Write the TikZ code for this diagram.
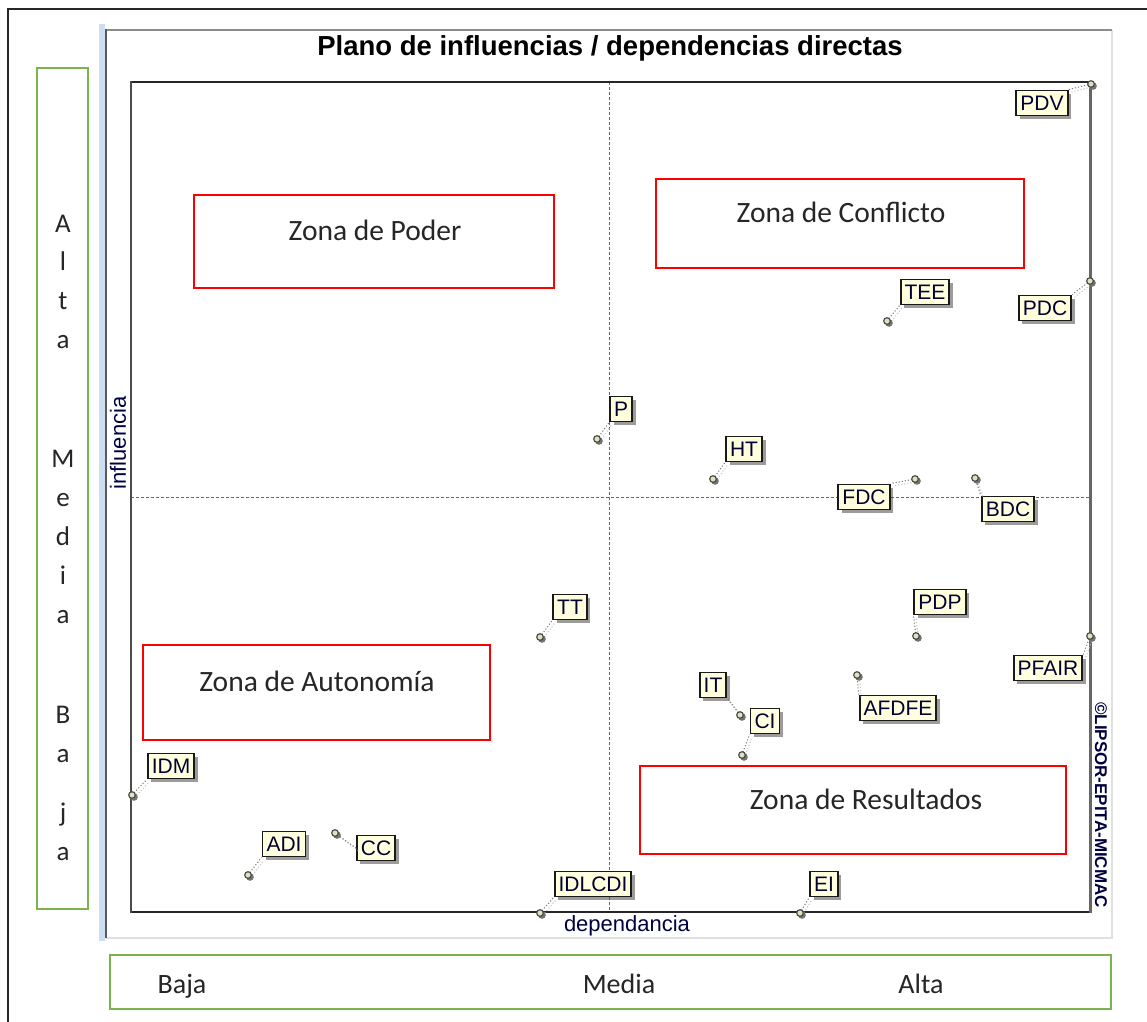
\documentclass[tikz,border=0pt]{standalone}
\usepackage{fontspec}
\setmainfont{Liberation Sans}
\newfontfamily\calibri{Carlito}
\usetikzlibrary{shadows,calc}
\definecolor{grn}{RGB}{122,180,80}
\definecolor{cream}{RGB}{255,255,222}
\definecolor{lblue}{RGB}{205,222,242}
\definecolor{mk}{RGB}{225,225,190}
\begin{document}
\begin{tikzpicture}[x=1pt,y=-1pt,
  lab/.style={draw=black!90, line width=1.9pt, fill=cream, inner xsep=4pt, inner ysep=5pt,
    text height=15pt, text depth=0pt, font=\fontsize{21}{25}\selectfont, text=black!80!blue,
    drop shadow={shadow xshift=3.5pt,shadow yshift=-3.5pt,fill=black!70,opacity=0.55}},
  zone/.style={draw=red, line width=1.3pt},
  zonetext/.style={font=\calibri\fontsize{29.5}{32}\selectfont, anchor=base, text=black!85},
  letter/.style={font=\calibri\fontsize{27}{30}\selectfont, anchor=base, text=black!85},
  conn/.style={draw=black!50, dotted, line width=1.1pt},
  connsh/.style={draw=black!22, dotted, line width=1.1pt},
  midline/.style={draw=black!60, dash pattern=on 3pt off 2pt, line width=0.8pt}]
\useasboundingbox (0,0) rectangle (1147,1021);
\fill[white] (0,0) rectangle (1147,1021);
% outer frame
\draw[black!85, line width=1.5pt] (8,1030) -- (8,9) -- (1160,9);
% left green box and letters
\draw[grn, line width=1.3pt] (37,68) rectangle (88,909);
\foreach \ch/\yy [count=\i] in {A/232, l/270, t/309, a/348, M/467, e/506, d/545, i/584, a/623, B/723, a/762, j/821, a/860}
  \node[letter] (let\i) at (63,\yy) {\ch};
% bottom green box
\draw[grn, line width=1.3pt] (110,955) rectangle (1111,1009);
\node[letter, font=\calibri\fontsize{28}{30}\selectfont] (baja) at (182,993) {Baja};
\node[letter, font=\calibri\fontsize{28}{30}\selectfont] (media) at (619,993) {Media};
\node[letter, font=\calibri\fontsize{28}{30}\selectfont] (alta) at (921,993) {Alta};
% chart panel
\fill[lblue] (99,24) rectangle (105,941);
\draw[black!12, line width=1.5pt] (106,938) -- (1112,938) -- (1112,30);
\draw[black!45, line width=1.6pt] (106,30) -- (1112,30);
\draw[black!65, line width=2pt] (106,938) -- (106,29);
\node[font=\bfseries\fontsize{27.5}{30}\selectfont, anchor=base] (title) at (610,55) {Plano de influencias / dependencias directas};
% dashed mid lines
\draw[midline] (609,82) -- (609,912);
\draw[midline] (131,497) -- (1090,497);
% plot frame
\draw[black!85, line width=2pt] (131,82) rectangle (1090,912);
\draw[black!60, line width=3pt] (1090,81) -- (1090,913);
\draw[black!70, line width=2.4pt] (131,81) -- (131,913);
% axis texts
\node[font=\fontsize{22}{24}\selectfont, rotate=90, anchor=center, text=black!75!blue] (infl) at (118,443) {influencia};
\node[font=\fontsize{22}{24}\selectfont, anchor=base, text=black!75!blue] (dep) at (627,931) {dependancia};
\node[font=\bfseries\fontsize{17}{18}\selectfont, rotate=-90, anchor=center, text=black!75!blue] (copy) at (1101,805) {©LIPSOR-EPITA-MICMAC};
% zones
\draw[zone] (194,195) rectangle (554,288);
\node[zonetext] (zpoder) at (375,240) {Zona de Poder};
\draw[zone] (656,179) rectangle (1024,268);
\node[zonetext] (zconf) at (841,222) {Zona de Conflicto};
\draw[zone] (143,645) rectangle (490,740);
\node[zonetext] (zaut) at (317,691) {Zona de Autonomía};
\draw[zone] (640,766) rectangle (1066,854);
\node[zonetext] (zres) at (866,809) {Zona de Resultados};
% points and labels
\foreach \n/\px/\py/\lx/\ly/\an in {
  PDV/1091/84/1042/103/north east,
  PDC/1090/281/1045/308/north east,
  TEE/887/321/925/292/south west,
  P/597/439/621/409/south west,
  HT/713/479/744/449/south west,
  FDC/915/479/864/497/north east,
  BDC/975/478/1008/509/north west,
  TT/540/637/570/607/south west,
  PDP/916/636/940/602/south west,
  PFAIR/1090/636/1048/668/north east,
  AFDFE/857/675/898/708/north west,
  IT/740/715/713/685/south east,
  CI/742/755/765/721/south west,
  IDM/132/795/171/766/south west,
  ADI/248/875/284/844/south west,
  CC/335/833/376/848/west,
  IDLCDI/540/913/593/884/south west,
  EI/800/913/824/884/south west}{
  \coordinate (p\n) at (\px,\py);
  \node[lab] (l\n) at (\lx,\ly) {\n};
  \draw[connsh] ($(p\n)+(2.5,2.5)$) -- ($(l\n.\an)+(2.5,2.5)$);
  \draw[conn] (p\n) -- (l\n.\an);
  \fill[black!55] ($(p\n)+(2,2)$) circle (3.8);
  \filldraw[fill=mk, draw=black!70, line width=1.2pt] (p\n) circle (3.3);
}
\end{tikzpicture}
\end{document}
